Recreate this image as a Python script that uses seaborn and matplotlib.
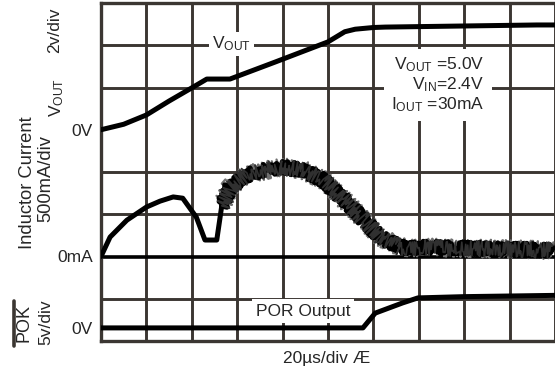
import numpy as np
import pandas as pd
import matplotlib
matplotlib.use('Agg')
import matplotlib.pyplot as plt
from matplotlib.lines import Line2D
import seaborn as sns

vout_t = [0, 5.4, 10, 20, 30, 40.6, 46.6, 56.8, 76.6, 100, 107.4, 112, 120, 125.2, 192, 200]
vout_v = [0, 0.14, 0.26, 0.70, 1.36, 2.02, 2.40, 2.40, 3.20, 4.16, 4.64, 4.76, 4.84, 4.86, 4.96, 4.96]

il_t = [0, 4, 11.4, 20, 26, 31.8, 36, 42, 45.8, 51, 53.2, 56.8, 64, 78.8, 89, 97.8, 108.4, 117.2, 123, 131.8, 158, 199.2]
il_ma = [0, 230, 430, 585, 655, 705, 690, 465, 195, 195, 600, 820, 965, 1060, 1025, 905, 635, 395, 230, 110, 100, 75]

por_t = [0, 15.8, 115.4, 120.8, 132.8, 139.6, 160, 200]
por_v = [0, 0, 0, 1.75, 2.95, 3.55, 3.7, 3.85]

# scope settings: units per division and the division where each trace's zero sits
VOUT_DIV, VOUT_ZERO = 2.0, 5.0
IL_DIV, IL_ZERO = 500.0, 2.0
POR_DIV, POR_ZERO = 5.0, 0.31
T_DIV = 20.0

vout = pd.DataFrame({'t': vout_t, 'y': VOUT_ZERO + np.array(vout_v) / VOUT_DIV})
il = pd.DataFrame({'t': il_t, 'y': IL_ZERO + np.array(il_ma) / IL_DIV})
por = pd.DataFrame({'t': por_t, 'y': POR_ZERO + np.array(por_v) / POR_DIV})

sns.set_style('white')
plt.rcParams['font.family'] = ['Liberation Sans', 'DejaVu Sans']
plt.rcParams['mathtext.fontset'] = 'custom'
plt.rcParams['mathtext.rm'] = 'Liberation Sans'
plt.rcParams['mathtext.it'] = 'Liberation Sans'

grid_c = '#3b3632'

fig = plt.figure(figsize=(5.55, 3.72), dpi=100)
ax = fig.add_axes([101/555, 31/372, 454/555, 338/372])

ax.set_xlim(0, 10 * T_DIV)
ax.set_ylim(0, 8)
ax.set_xticks([])
ax.set_xticks(np.arange(1, 11) * T_DIV, minor=True)
ax.set_yticks(range(9), minor=True)
ax.grid(which='minor', color=grid_c, lw=2.1, zorder=1)
ax.set_axisbelow(True)

# 0 level markers as y ticks
ax.set_yticks([POR_ZERO, IL_ZERO, VOUT_ZERO])
ax.set_yticklabels(['0V', '0mA', '0V'], fontsize=12.5)
ax.tick_params(axis='y', which='major', length=4, width=4, color=grid_c, pad=2)
ax.tick_params(which='minor', length=0)

for s in ['left', 'bottom', 'top']:
    ax.spines[s].set_color(grid_c)
    ax.spines[s].set_linewidth(2.4)
ax.spines['right'].set_visible(False)

# 0mA reference drawn heavier like on the screen
ax.axhline(IL_ZERO, color='black', lw=2.6, zorder=2)

sns.lineplot(data=vout, x='t', y='y', color='black', lw=3.6, sort=False, estimator=None, ax=ax, zorder=3)
sns.lineplot(data=il[il.t <= 57], x='t', y='y', color='black', lw=3.6, sort=False, estimator=None, ax=ax, zorder=3)

# switching noise on the inductor current: a rough band
noisy = il[il.t >= 53]
for col, lw, sk in [('#707070', 1.6, (9, 2, 3)), ('black', 4, (6, 3, 2)), ('#303030', 1.2, (8, 1.5, 3))]:
    sns.lineplot(data=noisy, x='t', y='y', color=col, lw=lw, sort=False, estimator=None, ax=ax, zorder=3)
    ax.lines[-1].set_sketch_params(*sk)

sns.lineplot(data=por, x='t', y='y', color='black', lw=3.6, sort=False, estimator=None, ax=ax, zorder=3)
ax.set_xlabel('')
ax.set_ylabel('')

box = dict(facecolor='white', edgecolor='none', pad=2)
ax.text(57.5, 7.03, r'V$_{\rm OUT}$', fontsize=12.5, ha='center', va='center', bbox=box, zorder=5)
ax.text(169, 6.06, 'V$_{\\rm OUT}$ =5.0V\nV$_{\\rm IN}$=2.4V\nI$_{\\rm OUT}$ =30mA',
        fontsize=12.5, ha='right', va='center', multialignment='right', linespacing=1.1,
        bbox=dict(facecolor='white', edgecolor='none', pad=5), zorder=5)
ax.text(89, 0.71, 'POR Output', fontsize=12.5, ha='center', va='center',
        bbox=dict(facecolor='white', edgecolor='none', pad=3), zorder=5)

# channel labels down the left side and time base under the grid
def side(x, y, s, size=12.5, rot=90):
    fig.text(x / 555, 1 - y / 372, s, rotation=rot, ha='center', va='center', fontsize=size)

side(55, 30, '2v/div')
side(57, 97, r'V$_{\rm OUT}$')
side(28, 183, 'Inductor Current', 13.2)
side(46, 178, '500mA/div', 13.2)
side(23.5, 323, 'POK', 13)
side(46, 322, '5v/div')
side(327, 359, '20µs/div Æ', 12.5, rot=0)
fig.add_artist(Line2D([13.5 / 555, 13.5 / 555], [1 - 301 / 372, 1 - 346 / 372], color=grid_c, lw=2.6))

fig.savefig('out.png', dpi=100)
